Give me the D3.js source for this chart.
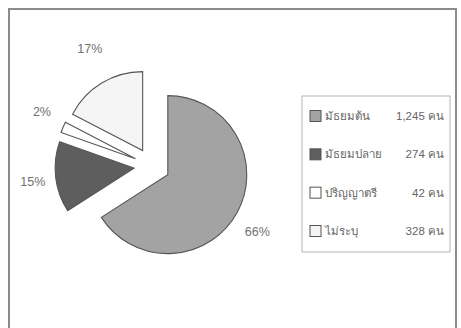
<!DOCTYPE html>
<html>
<head>
<meta charset="utf-8">
<script src="https://cdn.jsdelivr.net/npm/d3@7"></script>
<style>
html,body{margin:0;padding:0;background:#fff;}
svg{display:block;}
text{font-family:"Liberation Sans",Arial,sans-serif;}
</style>
</head>
<body>
<div id="chart"></div>
<script>
const categories = ["มัธยมต้น", "มัธยมปลาย", "ปริญญาตรี", "ไม่ระบุ"];
const values = [1245, 274, 42, 328];
const valueLabels = ["1,245 คน", "274 คน", "42 คน", "328 คน"];
const percentLabels = ["66%", "15%", "2%", "17%"];
const colors = ["#a3a3a3", "#5e5e5e", "#ffffff", "#f5f5f5"];

const W = 461, H = 328;
const svg = d3.select("#chart").append("svg").attr("width", W).attr("height", H);

// outer frame
svg.append("rect").attr("x", 9).attr("y", 9).attr("width", 447).attr("height", 340)
  .attr("fill", "#fff").attr("stroke", "#8c8c8c").attr("stroke-width", 2);

const cx = 152, cy = 166, R = 79, explode = 18;
const pie = d3.pie().sort(null).value(d => d)(values);
const arc = d3.arc().innerRadius(0).outerRadius(R);

const g = svg.append("g").attr("transform", `translate(${cx},${cy})`);
const dir = d => {
  const a = (d.startAngle + d.endAngle) / 2;
  return [Math.sin(a), -Math.cos(a)];
};

g.selectAll("path.slice").data(pie).join("path")
  .attr("class", "slice")
  .attr("d", arc)
  .attr("transform", d => { const [dx, dy] = dir(d); return `translate(${dx*explode},${dy*explode})`; })
  .attr("fill", (d, i) => colors[i])
  .attr("stroke", "#555")
  .attr("stroke-width", 1.1)
  .attr("stroke-linejoin", "miter");

const lrx = 120, lry = 137;
g.selectAll("text.pct").data(pie).join("text")
  .attr("class", "pct")
  .attr("x", d => dir(d)[0] * lrx)
  .attr("y", d => dir(d)[1] * lry)
  .attr("dy", "0.35em")
  .attr("text-anchor", "middle")
  .attr("font-size", 12.5)
  .attr("fill", "#707070")
  .text((d, i) => percentLabels[i]);

// legend
const lg = svg.append("g");
lg.append("rect").attr("x", 302).attr("y", 96).attr("width", 148).attr("height", 156)
  .attr("fill", "#fff").attr("stroke", "#b5b5b5").attr("stroke-width", 1);

const ly = d3.scalePoint().domain(categories).range([116, 231]);
const items = lg.selectAll("g.item").data(categories).join("g").attr("class", "item")
  .attr("transform", d => `translate(0,${ly(d)})`);
items.append("rect").attr("x", 310).attr("y", -5.5).attr("width", 11).attr("height", 11)
  .attr("fill", (d, i) => colors[i]).attr("stroke", "#555").attr("stroke-width", 1);
items.append("text").attr("x", 325).attr("dy", "0.35em").attr("font-size", 11.5)
  .attr("fill", "#666").text(d => d);
items.append("text").attr("x", 444).attr("dy", "0.35em").attr("font-size", 11.5)
  .attr("text-anchor", "end").attr("fill", "#666").text((d, i) => valueLabels[i]);
</script>
</body>
</html>
